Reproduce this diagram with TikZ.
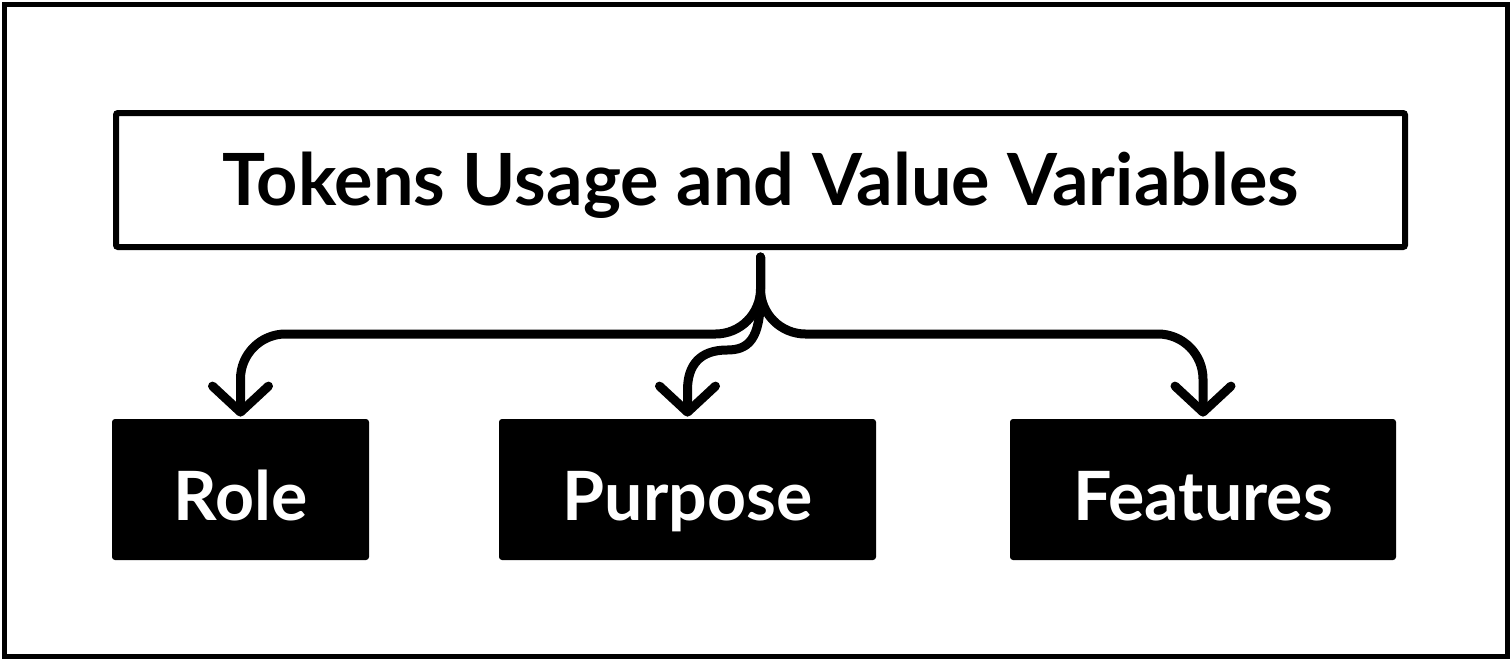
\documentclass[tikz,border=0pt]{standalone}
\usepackage{fontspec}
\setmainfont{Lato}
\usetikzlibrary{arrows.meta}

\begin{document}
\begin{tikzpicture}[x=0.5pt,y=-0.5pt,
  titlebox/.style={draw=black, fill=white, line width=3pt, rounded corners=1pt,
    minimum width=644.5pt, minimum height=67pt, inner sep=0pt,
    text height=25pt, text depth=0pt,
    font=\fontsize{36}{40}\selectfont\bfseries},
  itembox/.style={fill=black, text=white, rounded corners=1.5pt,
    minimum height=70.5pt, inner sep=0pt,
    text height=30.5pt, text depth=0pt,
    font=\fontsize{34}{38}\selectfont\bfseries},
  link/.style={line width=4.5pt, line cap=round, line join=round,
    -{Straight Barb[length=13pt, width=28pt, round]}}]
\useasboundingbox (0,0) rectangle (1512,661);
\draw[line width=2.5pt] (4.5,4.5) rectangle (1507.5,656.5);
\node[titlebox] (top) at (760.5,180) {Tokens Usage and Value Variables};
\node[itembox, minimum width=128.5pt] (role) at (240.5,489.5) {Role};
\node[itembox, minimum width=188.5pt] (purpose) at (687.5,489.5) {Purpose};
\node[itembox, minimum width=193pt] (features) at (1203,489.5) {Features};
\draw[link, rounded corners=22.5pt, shorten <=3.5pt, shorten >=1pt] (top.south) -- (top.south |- 0,334) -- (role.north |- 0,334) -- (role.north);
\draw[link, rounded corners=22.5pt, shorten <=3.5pt, shorten >=1pt] (top.south) -- (top.south |- 0,334) -- (features.north |- 0,334) -- (features.north);
\draw[link, shorten <=3.5pt, shorten >=1pt] (top.south) -- (760.5,295) .. controls (760.5,340) and (748,350) .. (727,350) .. controls (700,350) and (687.5,365) .. (687.5,390) -- (purpose.north);
\end{tikzpicture}
\end{document}
